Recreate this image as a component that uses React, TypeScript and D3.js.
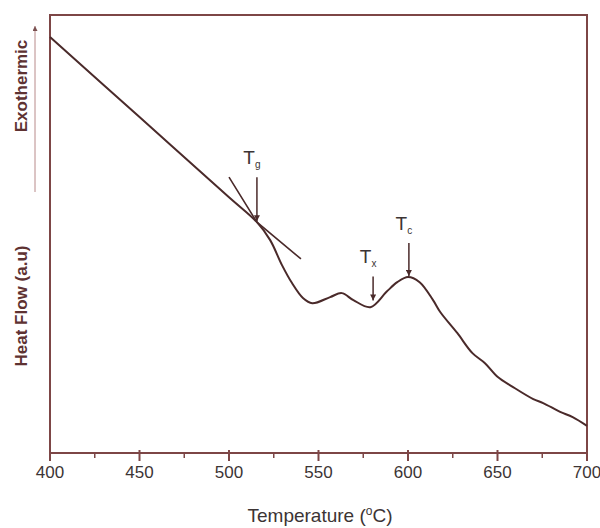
import React, { useEffect, useRef } from 'react';
import * as d3 from 'd3';

// DSC trace, heat flow in arbitrary units
const temps = [400, 450, 500, 515.6, 523, 529.6, 535.2, 541.3, 546.5, 556.5, 563, 569.5, 579, 588, 594, 600, 606.5, 614, 618, 627.5, 636, 643, 650, 658.5, 670, 675.5, 685, 692, 700];
const heatFlow = [95.0, 76.7, 58.4, 52.7, 48.6, 42.9, 38.8, 35.4, 34.2, 35.6, 36.5, 34.9, 33.3, 36.8, 39.0, 40.2, 39.0, 34.9, 32.2, 27.4, 22.8, 20.5, 17.4, 15.1, 12.3, 11.4, 9.4, 8.2, 6.2];

// tangent lines crossing at the glass transition
const tangentTemps = [500.0, 515.6, 540.2];
const tangentFlow = [63.0, 52.7, 44.3];

// marked temperatures
const markSubs = ['g', 'x', 'c'];
const markTemps = [515.6, 580.5, 600.5];
const markFlow = [52.7, 34.6, 40.2];
const markLength = [45, 25, 34];

const xTicks = [400, 450, 500, 550, 600, 650, 700];
const xMinorTicks = [425, 475, 525, 575, 625, 675];

const axisColor = '#7d4646';
const lineColor = '#4a2a2a';
const textColor = '#3c3434';
const fontFamily = '"Liberation Sans", Arial, Helvetica, sans-serif';

function DscChart() {
  const svgRef = useRef<SVGSVGElement>(null);

  useEffect(() => {
    const width = 600;
    const height = 528;
    const left = 50, right = 587, top = 15, bottom = 453;

    const svg = d3.select(svgRef.current);
    svg.selectAll('*').remove();
    svg.attr('width', width).attr('height', height);

    const x = d3.scaleLinear().domain([400, 700]).range([left, right]);
    const y = d3.scaleLinear().domain([0, 100]).range([bottom, top]);

    const defs = svg.append('defs');
    defs.append('marker')
      .attr('id', 'head')
      .attr('viewBox', '0 0 10 10')
      .attr('refX', 10).attr('refY', 5)
      .attr('markerWidth', 6).attr('markerHeight', 6)
      .attr('markerUnits', 'userSpaceOnUse')
      .attr('orient', 'auto')
      .append('path')
      .attr('d', 'M0,0 L10,5 L0,10 z')
      .attr('fill', lineColor);
    defs.append('marker')
      .attr('id', 'headLight')
      .attr('viewBox', '0 0 10 10')
      .attr('refX', 10).attr('refY', 5)
      .attr('markerWidth', 5).attr('markerHeight', 5)
      .attr('markerUnits', 'userSpaceOnUse')
      .attr('orient', 'auto')
      .append('path')
      .attr('d', 'M0,0 L10,5 L0,10 z')
      .attr('fill', '#7a5050');

    // frame
    svg.append('rect')
      .attr('x', left).attr('y', top)
      .attr('width', right - left).attr('height', bottom - top)
      .attr('fill', 'none')
      .attr('stroke', axisColor)
      .attr('stroke-width', 2);

    // x ticks
    svg.append('g').selectAll('line')
      .data(xTicks)
      .enter().append('line')
      .attr('x1', (d) => x(d)).attr('x2', (d) => x(d))
      .attr('y1', bottom - 3).attr('y2', bottom + 8)
      .attr('stroke', axisColor).attr('stroke-width', 2);
    svg.append('g').selectAll('line')
      .data(xMinorTicks)
      .enter().append('line')
      .attr('x1', (d) => x(d)).attr('x2', (d) => x(d))
      .attr('y1', bottom).attr('y2', bottom + 5)
      .attr('stroke', axisColor).attr('stroke-width', 1.5);
    svg.append('g').selectAll('text')
      .data(xTicks)
      .enter().append('text')
      .attr('x', (d) => x(d))
      .attr('y', 478)
      .attr('text-anchor', 'middle')
      .style('font-family', fontFamily)
      .style('font-size', '17px')
      .attr('fill', textColor)
      .text((d) => d);

    // x title
    const xt = svg.append('text')
      .attr('x', 320).attr('y', 522)
      .attr('text-anchor', 'middle')
      .style('font-family', fontFamily)
      .style('font-size', '19px')
      .attr('fill', textColor);
    xt.append('tspan').text('Temperature (');
    xt.append('tspan').attr('dy', -7).style('font-size', '12px').text('o');
    xt.append('tspan').attr('dy', 7).text('C)');

    // y titles
    svg.append('text')
      .attr('transform', 'translate(27,86) rotate(-90)')
      .attr('text-anchor', 'middle')
      .style('font-family', fontFamily)
      .style('font-size', '17px')
      .style('font-weight', 'bold')
      .attr('fill', '#5e3232')
      .text('Exothermic');
    svg.append('text')
      .attr('transform', 'translate(27,306) rotate(-90)')
      .attr('text-anchor', 'middle')
      .style('font-family', fontFamily)
      .style('font-size', '17px')
      .style('font-weight', 'bold')
      .attr('fill', '#5e3232')
      .text('Heat Flow (a.u)');
    svg.append('line')
      .attr('x1', 35).attr('x2', 35)
      .attr('y1', 192).attr('y2', 26)
      .attr('stroke', '#b88a8a').attr('stroke-width', 1)
      .attr('marker-end', 'url(#headLight)');

    // tangent
    const line = d3.line<[number, number]>()
      .x((d) => x(d[0]))
      .y((d) => y(d[1]));
    svg.append('path')
      .datum(tangentTemps.map((t, i) => [t, tangentFlow[i]] as [number, number]))
      .attr('d', line)
      .attr('fill', 'none')
      .attr('stroke', lineColor)
      .attr('stroke-width', 1.6);

    // curve
    const curve = d3.line<[number, number]>()
      .x((d) => x(d[0]))
      .y((d) => y(d[1]))
      .curve(d3.curveCatmullRom.alpha(0.5));
    svg.append('path')
      .datum(temps.map((t, i) => [t, heatFlow[i]] as [number, number]))
      .attr('d', curve)
      .attr('fill', 'none')
      .attr('stroke', lineColor)
      .attr('stroke-width', 2);

    // marks
    const marks = svg.selectAll('.mark')
      .data(markSubs)
      .enter().append('g')
      .attr('class', 'mark');
    marks.append('line')
      .attr('x1', (d, i) => x(markTemps[i])).attr('x2', (d, i) => x(markTemps[i]))
      .attr('y1', (d, i) => y(markFlow[i]) - markLength[i])
      .attr('y2', (d, i) => y(markFlow[i]) - 1)
      .attr('stroke', lineColor).attr('stroke-width', 1.5)
      .attr('marker-end', 'url(#head)');
    const labels = marks.append('text')
      .attr('x', (d, i) => x(markTemps[i]) - 5)
      .attr('y', (d, i) => y(markFlow[i]) - markLength[i] - 13)
      .attr('text-anchor', 'middle')
      .style('font-family', fontFamily)
      .style('font-size', '19px')
      .attr('fill', textColor);
    labels.append('tspan').text('T');
    labels.append('tspan')
      .attr('dy', 4)
      .style('font-size', '10px')
      .text((d) => d);
  }, []);

  return (
    <svg ref={svgRef} style={{ position: 'absolute', left: 0, top: 0, background: '#fff' }}></svg>
  );
}

export default function App() {
  return <DscChart />;
}
